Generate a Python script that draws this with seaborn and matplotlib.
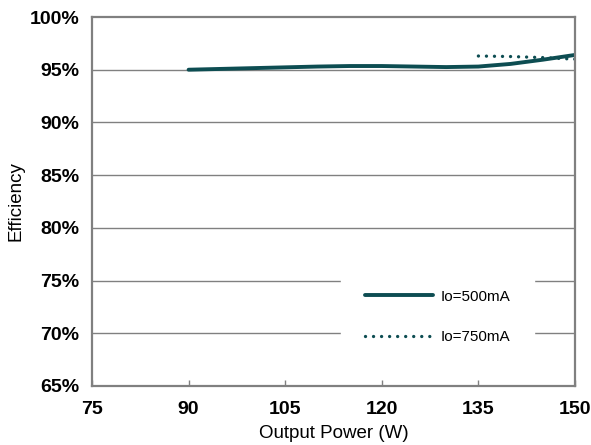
import numpy as np
import pandas as pd
import matplotlib
matplotlib.use("Agg")
import matplotlib.pyplot as plt
import seaborn as sns

power_500 = [90, 100, 110, 115, 120, 125, 130, 135, 140, 145, 150]
eff_500 = [95.0, 95.15, 95.3, 95.35, 95.35, 95.3, 95.25, 95.3, 95.55, 95.95, 96.4]
power_750 = [135, 140, 145, 150]
eff_750 = [96.3, 96.25, 96.15, 96.0]

x_ticks = [75, 90, 105, 120, 135, 150]
y_ticks = [65, 70, 75, 80, 85, 90, 95, 100]

sns.set_style("white")
plt.rcParams['font.family'] = ['Liberation Sans', 'DejaVu Sans']
plt.rcParams['text.color'] = 'black'

teal = "#0d4d52"
grey = "#808080"

df500 = pd.DataFrame({"power": power_500, "eff": eff_500})
df750 = pd.DataFrame({"power": power_750, "eff": eff_750})

fig = plt.figure(figsize=(5.91, 4.45), dpi=100)
ax = fig.add_axes([92/591, 1 - 386/445, (575-92)/591, (386-17)/445])

for y in y_ticks[1:-1]:
    ax.axhline(y, color=grey, lw=1.0, zorder=0)

sns.lineplot(data=df500, x="power", y="eff", ax=ax, color=teal, lw=2.8,
             label="Io=500mA")
sns.lineplot(data=df750, x="power", y="eff", ax=ax, color=teal, lw=2.4,
             linestyle=(0, (0.01, 2.4)), dash_capstyle="round", label="Io=750mA")

ax.set_xlim(75, 150)
ax.set_ylim(65, 100)
ax.set_xticks(x_ticks)
ax.set_yticks(y_ticks)
ax.set_xticklabels([str(t) for t in x_ticks], fontsize=14, fontweight="bold", color="black")
ax.set_yticklabels([f"{t}%" for t in y_ticks], fontsize=14, fontweight="bold", color="black")
ax.tick_params(axis="x", bottom=True, direction="in", length=4, width=1, color=grey, pad=11)
ax.tick_params(axis="y", left=False, length=0, pad=9)
ax.set_xlabel("Output Power (W)", fontsize=13.5, labelpad=5, color="black")
ax.set_ylabel("Efficiency", fontsize=13.5, labelpad=4, color="black")

for s in ax.spines.values():
    s.set_color(grey)
    s.set_linewidth(1.6)

leg = ax.legend(loc="center", bbox_to_anchor=(437.5/591, 1 - 317/445),
                bbox_transform=fig.transFigure, frameon=True,
                fontsize=11, handlelength=4.45, labelspacing=1.75,
                borderpad=1.6, handletextpad=0.46)
leg.get_frame().set_edgecolor("white")
leg.get_frame().set_facecolor("white")
leg.get_frame().set_alpha(1)
leg.get_frame().set_boxstyle("square", pad=0)
for t in leg.get_texts():
    t.set_color("black")

fig.savefig("out.png", dpi=100)
